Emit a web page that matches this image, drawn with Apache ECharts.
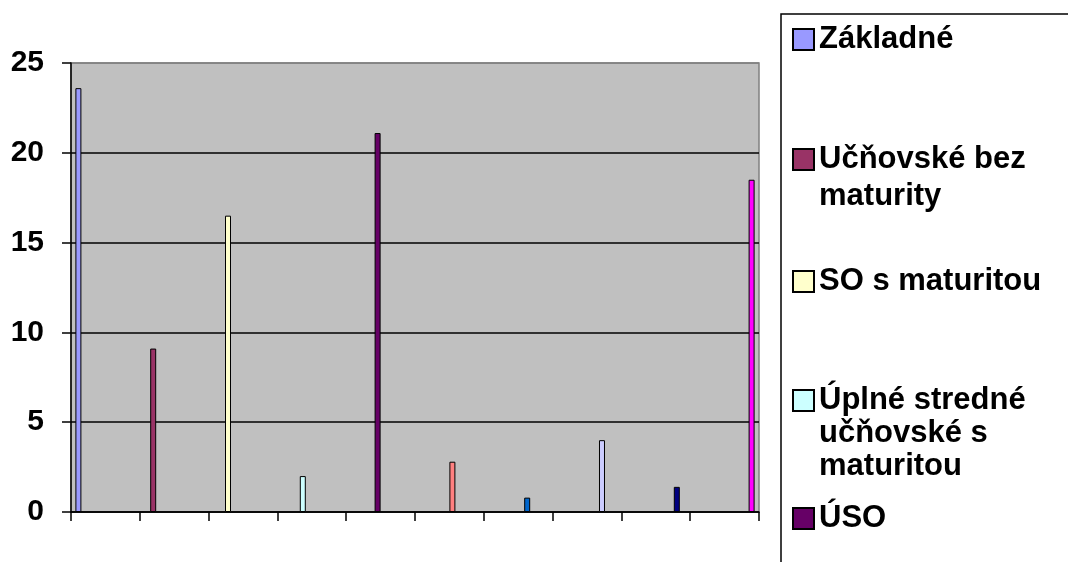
<!DOCTYPE html>
<html>
<head>
<meta charset="utf-8">
<script src="https://cdn.jsdelivr.net/npm/echarts@6/dist/echarts.min.js"></script>
<style>
html,body{margin:0;padding:0;background:#fff;}
#chart{width:1068px;height:562px;}
</style>
</head>
<body>
<div id="chart"></div>
<script>
var categories = ['1','2','3','4','5','6','7','8','9','10'];
var seriesNames = ['Základné','Učňovské bez maturity','SO s maturitou','Úplné stredné učňovské s maturitou','ÚSO','Séria 6','Séria 7','Séria 8','Séria 9','Séria 10'];
var legendLabels = ['Základné','Učňovské bez\nmaturity','SO s maturitou','Úplné stredné\nučňovské s\nmaturitou','ÚSO'];
var values = [23.6, 9.1, 16.5, 2.0, 21.1, 2.8, 0.8, 4.0, 1.4, 18.5];
var colors = ['#9999FF','#993366','#FFFFCC','#CCFFFF','#660066','#FF8080','#0066CC','#CCCCFF','#000080','#FF00FF'];
var yTicks = [0, 5, 10, 15, 20, 25];

var FONT = 'Liberation Sans, Arial, sans-serif';
var series = seriesNames.map(function (name, i) {
  var d = categories.map(function (c, j) { return j === i ? values[i] : null; });
  return {
    name: name,
    type: 'bar',
    data: d,
    barGap: '0%',
    barCategoryGap: '12.8%',
    itemStyle: { color: colors[i], borderColor: '#000', borderWidth: 1 },
    emphasis: { disabled: true },
    silent: true
  };
});

var legendTops = [23, 104, 265, 318, 502];
var legendLH = [33, 37, 33, 33, 33];
var legends = legendLabels.map(function (lab, i) {
  var lines = lab.split('\n').length;
  var pre = '';
  for (var k = 1; k < lines; k++) { pre += ' \n'; }
  return {
    show: true,
    orient: 'vertical',
    left: 792,
    top: legendTops[i],
    padding: 0,
    selectedMode: false,
    icon: 'rect',
    itemWidth: 21,
    itemHeight: 21,
    data: [seriesNames[i]],
    formatter: function () { return pre + lab; },
    textStyle: {
      fontFamily: FONT,
      fontWeight: 'bold',
      fontSize: 31,
      color: '#000',
      lineHeight: legendLH[i]
    }
  };
});

var chart = echarts.init(document.getElementById('chart'), null, { renderer: 'canvas' });
chart.setOption({
  animation: false,
  backgroundColor: '#fff',
  grid: {
    left: 71, top: 63, right: 309, bottom: 50,
    show: true, backgroundColor: '#C0C0C0', borderColor: '#808080', borderWidth: 1.5
  },
  legend: legends,
  graphic: [{
    type: 'rect',
    shape: { x: 781, y: 14, width: 400, height: 600 },
    style: { fill: 'none', stroke: '#000', lineWidth: 1.5 },
    silent: true,
    z: 10
  }],
  xAxis: {
    type: 'category',
    data: categories,
    axisLine: { lineStyle: { color: '#000', width: 1.5 } },
    axisTick: { show: true, length: 9, lineStyle: { color: '#000', width: 1.5 } },
    axisLabel: { show: false },
    splitLine: { show: false }
  },
  yAxis: {
    type: 'value',
    min: yTicks[0],
    max: yTicks[yTicks.length - 1],
    interval: yTicks[1] - yTicks[0],
    axisLine: { show: true, lineStyle: { color: '#000', width: 1.5 } },
    axisTick: { show: true, length: 9, lineStyle: { color: '#000', width: 1.5 } },
    axisLabel: { fontFamily: FONT, fontWeight: 'bold', fontSize: 30, color: '#000', margin: 27 },
    splitLine: { show: true, lineStyle: { color: ['#000','#000','#000','#000','#000','#808080'], width: 1.5 } }
  },
  series: series
});
</script>
</body>
</html>
